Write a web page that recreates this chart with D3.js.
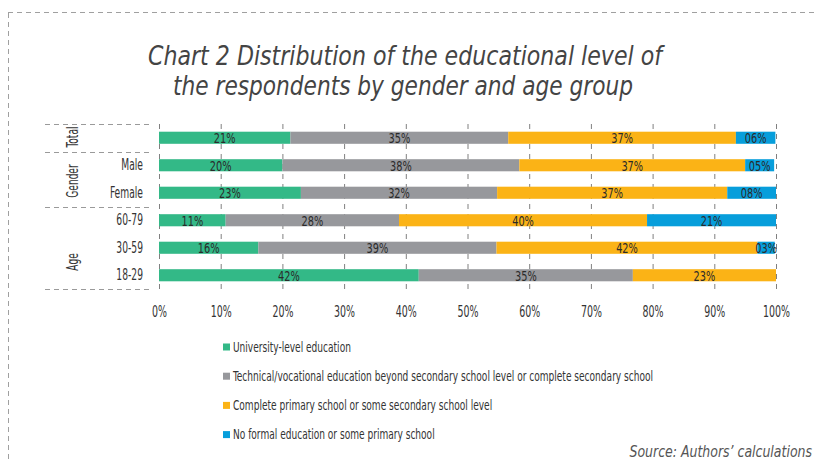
<!DOCTYPE html>
<html><head><meta charset="utf-8">
<script src="https://cdn.jsdelivr.net/npm/d3@7"></script>
<style>
html,body{margin:0;padding:0;background:#fff;}
svg{display:block;}
text{font-family:"DejaVu Sans Condensed","DejaVu Sans",sans-serif;}
</style></head>
<body>
<svg id="chart" width="816" height="462"></svg>
<script>
const categories = ["Total","Male","Female","60-79","30-59","18-29"];
const seriesNames = [
  "University-level education",
  "Technical/vocational education beyond secondary school level or complete secondary school",
  "Complete primary school or some secondary school level",
  "No formal education or some primary school"
];
const university = [21.3, 20.0, 23.0, 10.8, 16.1, 42.1];
const technical  = [35.3, 38.4, 31.8, 28.1, 38.6, 34.7];
const primary    = [36.9, 36.6, 37.3, 40.2, 42.3, 23.2];
const noFormal   = [6.4, 4.7, 7.9, 20.9, 2.8, 0];
const rowLabels = ["", "Male", "Female", "60-79", "30-59", "18-29"];
const groupNames = ["Total","Gender","Age"];
const xTicks = [0,10,20,30,40,50,60,70,80,90,100];
const colors = ["#33b987","#97989c","#fbb316","#079edb"];
const title = ["Chart 2 Distribution of the educational level of","the respondents by gender and age group"];
const source = "Source: Authors\u2019 calculations";

const svg = d3.select("#chart");
const keys = ["u","t","p","n"];
const table = categories.map((c,i)=>({cat:c,u:university[i],t:technical[i],p:primary[i],n:noFormal[i]}));
const stacked = d3.stack().keys(keys)(table);

const x = d3.scaleLinear().domain([0,100]).range([159,776]);
const y = d3.scaleBand().domain(categories).range([124,289]).paddingInner(0.56).paddingOuter(0.28);

function ctext(sel, tx, ty, sx, rot){
  return sel.attr("x",0).attr("y",0)
    .attr("transform",(d,i)=>`translate(${typeof tx==="function"?tx(d,i):tx},${typeof ty==="function"?ty(d,i):ty})${rot?" rotate("+rot+")":""} scale(${sx},1)`);
}

// outer dashed frame
svg.append("line").attr("x1",8).attr("x2",816).attr("y1",12.5).attr("y2",12.5)
  .attr("stroke","#a0a0a0").attr("stroke-dasharray","5,4");
svg.append("line").attr("x1",8.5).attr("x2",8.5).attr("y1",13).attr("y2",462)
  .attr("stroke","#a0a0a0").attr("stroke-dasharray","5,4");

// title
const titleW = [514, 460];
svg.selectAll("text.title").data(title).join("text").attr("class","title")
  .attr("x",(d,i)=>[148,173][i]).attr("y",(d,i)=>65+i*30)
  .attr("textLength",(d,i)=>titleW[i]).attr("lengthAdjust","spacingAndGlyphs")
  .attr("font-family",'"DejaVu Sans",sans-serif').attr("font-weight",200)
  .attr("font-size",27).attr("font-style","italic").attr("fill","#444").text(d=>d);

// gridlines
svg.append("g").selectAll("line").data(xTicks).join("line")
  .attr("x1",d=>x(d)+0.5).attr("x2",d=>x(d)+0.5).attr("y1",124).attr("y2",290)
  .attr("stroke","#808080").attr("stroke-dasharray","5,5");

// x axis labels
const xAxis = d3.axisBottom(x).tickValues(xTicks).tickFormat(d=>d+"%").tickSize(0).tickPadding(0);
const gx = svg.append("g").attr("transform","translate(0,317)").call(xAxis);
gx.select(".domain").remove();
gx.selectAll("text").attr("dy",0).attr("font-size",15).attr("fill","#333")
  .attr("font-family",'"DejaVu Sans Condensed",sans-serif')
  .attr("transform",`scale(0.7,1)`);

// bars
const fmt = v => d3.format("02d")(Math.round(v)) + "%";
stacked.forEach((s,si)=>{
  const g = svg.append("g");
  g.selectAll("rect").data(s).join("rect")
    .attr("x",d=>x(d[0])).attr("width",d=>Math.max(0,x(d[1])-x(d[0])))
    .attr("y",d=>y(d.data.cat)).attr("height",y.bandwidth())
    .attr("fill",colors[si]);
  ctext(g.selectAll("text").data(s.filter(d=>d[1]-d[0]>0)).join("text"),
      d=>(x(d[0])+x(d[1]))/2, d=>y(d.data.cat)+y.bandwidth()/2+5.5, 0.75)
    .attr("text-anchor","middle").attr("font-size",14.5).attr("fill","#2a2a2a")
    .text(d=>fmt(d[1]-d[0]));
});

// row labels
ctext(svg.selectAll("text.row").data(categories).join("text").attr("class","row"),
    143, d=>y(d)+y.bandwidth()/2+5, 0.68)
  .attr("text-anchor","end").attr("font-size",15).attr("fill","#333")
  .text((d,i)=>rowLabels[i]);

// group separators
const sepY = [124, (y("Total")+y.bandwidth()+y("Male"))/2, (y("Female")+y.bandwidth()+y("60-79"))/2, 289];
svg.append("g").selectAll("line").data(sepY).join("line")
  .attr("x1",45).attr("x2",153).attr("y1",d=>Math.round(d)+0.5).attr("y2",d=>Math.round(d)+0.5)
  .attr("stroke","#9a9a9a").attr("stroke-dasharray","5,4");

// group labels
const groupY = [137, 181, 262];
ctext(svg.selectAll("text.grp").data(groupNames).join("text").attr("class","grp"),
    78, (d,i)=>groupY[i], 0.67, -90)
  .attr("text-anchor","middle").attr("font-size",15).attr("fill","#333")
  .text(d=>d);

// legend
const lg = svg.append("g");
seriesNames.forEach((nm,i)=>{
  const yy = 347 + i*29.2;
  lg.append("rect").attr("x",223).attr("y",yy-3.5).attr("width",7).attr("height",7).attr("fill",colors[i]);
  lg.append("text").attr("x",0).attr("y",0)
    .attr("transform",`translate(233,${yy+4.5}) scale(0.745,1)`)
    .attr("font-size",13.5).attr("fill","#333").text(nm);
});

// source
svg.append("text").attr("x",0).attr("y",0)
  .attr("transform","translate(812,457) scale(0.87,1)")
  .attr("text-anchor","end")
  .attr("font-family",'"DejaVu Sans Condensed",sans-serif')
  .attr("font-size",16).attr("font-style","italic").attr("fill","#555").text(source);
</script>
</body></html>
